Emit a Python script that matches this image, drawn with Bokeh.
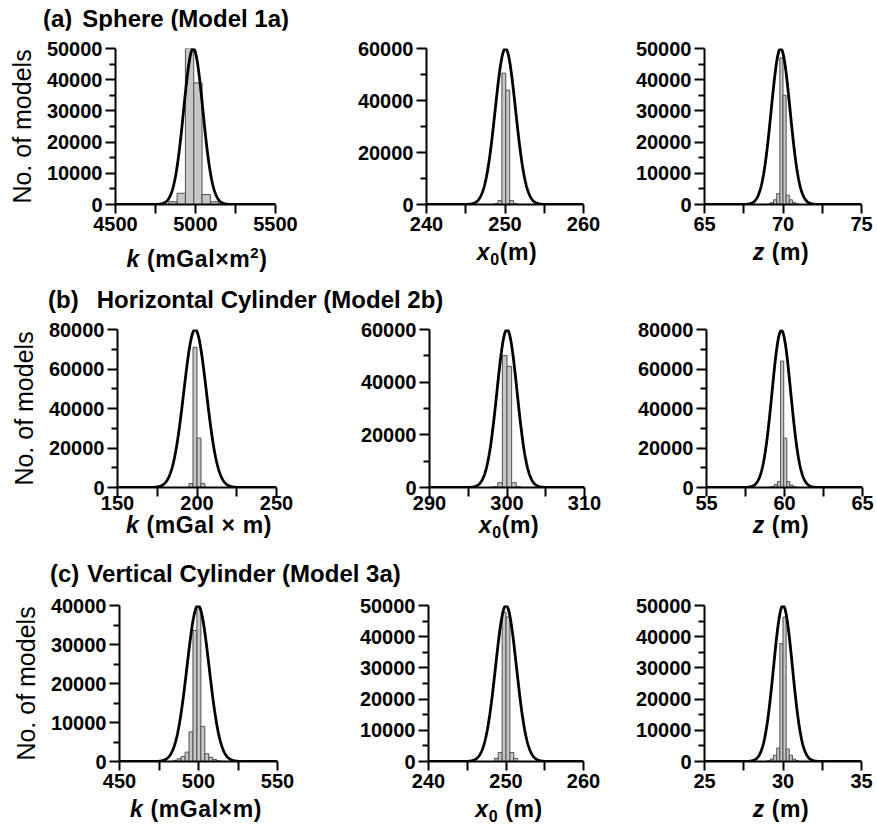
import numpy as np
from bokeh.plotting import figure
from bokeh.models import Range1d, FixedTicker, Div
from bokeh.layouts import column, row
from bokeh.embed import file_html
from bokeh.resources import INLINE

FONT = "Liberation Sans"
CSS_FONT = "'Liberation Sans', Arial, sans-serif"

# ---------------- Row (a): Sphere (Model 1a) ----------------
a_k_bins = [4859, 4911, 4963, 5015, 5067, 5119]
a_k_counts = [900, 3600, 50500, 39000, 3200, 900]
a_k_fit = (4986, 60, 50000)            # mean, sd, peak of fitted normal
a_k_xticks = [4500, 5000, 5500]
a_k_xminor = [4750, 5250]
a_k_yticks = [0, 10000, 20000, 30000, 40000, 50000]
a_k_yminor = [5000, 15000, 25000, 35000, 45000]

a_x_bins = [248.85, 249.35, 249.85, 250.35, 250.85, 251.35]
a_x_counts = [300, 1500, 50500, 44000, 1500, 300]
a_x_fit = (250.05, 1.3, 60000)
a_x_xticks = [240, 250, 260]
a_x_xminor = [245, 255]
a_x_yticks = [0, 20000, 40000, 60000]
a_x_yminor = [10000, 30000, 50000]

a_z_bins = [69.1, 69.3, 69.5, 69.7, 69.9, 70.1, 70.3, 70.5, 70.7, 70.9]
a_z_counts = [200, 600, 1500, 3500, 47000, 35000, 3000, 1500, 700, 200]
a_z_fit = (69.85, 0.6, 50000)
a_z_xticks = [65, 70, 75]
a_z_xminor = [67.5, 72.5]
a_z_yticks = [0, 10000, 20000, 30000, 40000, 50000]
a_z_yminor = [5000, 15000, 25000, 35000, 45000]

# ---------------- Row (b): Horizontal Cylinder (Model 2b) ----------------
b_k_bins = [196.25, 198.75, 201.25, 203.75]
b_k_counts = [2000, 71000, 25000, 2000]
b_k_fit = (198.8, 7.1, 80000)
b_k_xticks = [150, 200, 250]
b_k_xminor = [175, 225]
b_k_yticks = [0, 20000, 40000, 60000, 80000]
b_k_yminor = [10000, 30000, 50000, 70000]

b_x_bins = [298.5, 299.1, 299.7, 300.3, 300.9, 301.5]
b_x_counts = [300, 1800, 50100, 46000, 1800, 300]
b_x_fit = (300.0, 1.3, 60000)
b_x_xticks = [290, 300, 310]
b_x_xminor = [295, 305]
b_x_yticks = [0, 20000, 40000, 60000]
b_x_yminor = [10000, 30000, 50000]

b_z_bins = [59.25, 59.45, 59.65, 59.85, 60.05, 60.25, 60.45, 60.65]
b_z_counts = [500, 1500, 3000, 64000, 25000, 3000, 1200, 400]
b_z_fit = (59.8, 0.6, 79500)
b_z_xticks = [55, 60, 65]
b_z_xminor = [57.5, 62.5]
b_z_yticks = [0, 20000, 40000, 60000, 80000]
b_z_yminor = [10000, 30000, 50000, 70000]

# ---------------- Row (c): Vertical Cylinder (Model 3a) ----------------
c_k_bins = [485.25, 487.75, 490.25, 492.75, 495.25, 497.75, 500.25,
            502.75, 505.25, 507.75, 510.25, 512.75]
c_k_counts = [300, 700, 1300, 2400, 7600, 33600, 39500,
              9000, 2000, 1100, 500, 200]
c_k_fit = (499.7, 7.0, 40000)
c_k_xticks = [450, 500, 550]
c_k_xminor = [475, 525]
c_k_yticks = [0, 10000, 20000, 30000, 40000]
c_k_yminor = [5000, 15000, 25000, 35000]

c_x_bins = [248.75, 249.25, 249.75, 250.25, 250.75, 251.25]
c_x_counts = [1000, 2900, 47800, 46300, 2900, 1000]
c_x_fit = (250.0, 1.35, 50000)
c_x_xticks = [240, 250, 260]
c_x_xminor = [245, 255]
c_x_yticks = [0, 10000, 20000, 30000, 40000, 50000]
c_x_yminor = [5000, 15000, 25000, 35000, 45000]

c_z_bins = [29.1, 29.3, 29.5, 29.7, 29.9, 30.1, 30.3, 30.5, 30.7, 30.9]
c_z_counts = [300, 800, 2000, 4300, 37800, 46300, 4000, 2000, 800, 300]
c_z_fit = (30.0, 0.6, 50000)
c_z_xticks = [25, 30, 35]
c_z_xminor = [27.5, 32.5]
c_z_yticks = [0, 10000, 20000, 30000, 40000, 50000]
c_z_yminor = [5000, 15000, 25000, 35000, 45000]

row_titles = [("(a)", "Sphere (Model 1a)"),
              ("(b)", "Horizontal Cylinder (Model 2b)"),
              ("(c)", "Vertical Cylinder (Model 3a)")]
y_title = "No. of models"
x_titles = [
    ['<i>k</i> (mGal×m<sup style="font-size:15px">2</sup>)',
     '<i>x</i><span style="font-size:16px; position:relative; top:5px">0</span>(m)',
     '<i>z</i> (m)'],
    ['<i>k</i> (mGal × m)',
     '<i>x</i><span style="font-size:16px; position:relative; top:5px">0</span>(m)',
     '<i>z</i> (m)'],
    ['<i>k</i> (mGal×m)',
     '<i>x</i><span style="font-size:16px; position:relative; top:5px">0</span> (m)',
     '<i>z</i> (m)'],
]


def make_panel(bins, counts, bw, fit, xticks, xminor, yticks, yminor,
               geom, ylabel=None):
    lb, fw, rb, tb, fh, bb, tick_standoff = geom
    p = figure(frame_width=fw, frame_height=fh,
               min_border_left=lb, min_border_right=rb,
               min_border_top=tb, min_border_bottom=bb,
               x_range=Range1d(xticks[0], xticks[-1]),
               y_range=Range1d(yticks[0], yticks[-1]),
               title=None, toolbar_location=None, output_backend="svg")
    p.outline_line_color = None
    p.xgrid.visible = False
    p.ygrid.visible = False
    p.background_fill_color = "white"
    p.border_fill_color = "white"

    p.vbar(x=bins, top=counts, width=bw, bottom=0,
           fill_color="#c6c6c6", line_color="#505050", line_width=1)
    mu, sd, peak = fit
    xs = np.linspace(xticks[0], xticks[-1], 600)
    ys = peak * np.exp(-0.5 * ((xs - mu) / sd) ** 2)
    p.line(xs, ys, line_color="black", line_width=2.8)

    xa = p.xaxis[0]
    xa.ticker = FixedTicker(ticks=xticks, minor_ticks=xminor)
    xa.axis_line_width = 2
    xa.axis_line_color = "black"
    xa.major_tick_line_width = 2
    xa.minor_tick_line_width = 2
    xa.major_tick_out = 9
    xa.minor_tick_out = 9
    xa.major_tick_in = 0
    xa.minor_tick_in = 0
    xa.major_label_standoff = tick_standoff
    xa.major_label_text_font = FONT
    xa.major_label_text_font_style = "bold"
    xa.major_label_text_font_size = "20px"
    xa.major_label_text_color = "black"

    ya = p.yaxis[0]
    ya.ticker = FixedTicker(ticks=yticks, minor_ticks=yminor)
    ya.axis_line_width = 2
    ya.axis_line_color = "black"
    ya.major_tick_line_width = 2
    ya.minor_tick_line_width = 2
    ya.major_tick_out = 10
    ya.minor_tick_out = 6
    ya.major_tick_in = 0
    ya.minor_tick_in = 0
    ya.major_label_standoff = 3
    ya.major_label_text_font = FONT
    ya.major_label_text_font_style = "bold"
    ya.major_label_text_font_size = "20px"
    ya.major_label_text_color = "black"
    if ylabel:
        ya.axis_label = ylabel
        ya.axis_label_text_font = FONT
        ya.axis_label_text_font_style = "normal"
        ya.axis_label_text_font_size = "25px"
        ya.axis_label_text_color = "black"
        ya.axis_label_standoff = 8
    return p


# geometry: (left border, frame width, right border, top border, frame height, bottom border, x tick label standoff)
ga = [(115, 160, 30, 18, 156, 36, 3), (121, 157, 30, 18, 156, 36, 3), (91, 157, 16, 18, 156, 36, 3)]
gb = [(117, 159, 30, 12, 158, 28, -1), (123, 155, 30, 12, 158, 28, -1), (92, 156, 15, 12, 158, 28, -1)]
gc = [(119, 158, 30, 15, 156, 38, 3), (121, 155, 30, 15, 156, 38, 3), (91, 157, 16, 15, 156, 38, 3)]

row_a = [
    make_panel(a_k_bins, a_k_counts, 52, a_k_fit, a_k_xticks, a_k_xminor, a_k_yticks, a_k_yminor, ga[0], y_title),
    make_panel(a_x_bins, a_x_counts, 0.5, a_x_fit, a_x_xticks, a_x_xminor, a_x_yticks, a_x_yminor, ga[1]),
    make_panel(a_z_bins, a_z_counts, 0.2, a_z_fit, a_z_xticks, a_z_xminor, a_z_yticks, a_z_yminor, ga[2]),
]
row_b = [
    make_panel(b_k_bins, b_k_counts, 2.5, b_k_fit, b_k_xticks, b_k_xminor, b_k_yticks, b_k_yminor, gb[0], y_title),
    make_panel(b_x_bins, b_x_counts, 0.6, b_x_fit, b_x_xticks, b_x_xminor, b_x_yticks, b_x_yminor, gb[1]),
    make_panel(b_z_bins, b_z_counts, 0.2, b_z_fit, b_z_xticks, b_z_xminor, b_z_yticks, b_z_yminor, gb[2]),
]
row_c = [
    make_panel(c_k_bins, c_k_counts, 2.5, c_k_fit, c_k_xticks, c_k_xminor, c_k_yticks, c_k_yminor, gc[0], y_title),
    make_panel(c_x_bins, c_x_counts, 0.5, c_x_fit, c_x_xticks, c_x_xminor, c_x_yticks, c_x_yminor, gc[1]),
    make_panel(c_z_bins, c_z_counts, 0.2, c_z_fit, c_z_xticks, c_z_xminor, c_z_yticks, c_z_yminor, gc[2]),
]


def title_div(tag, text, left, gap, top, height):
    html = (f'<div style="padding-left:{left}px; padding-top:{top}px; '
            f'font-family:{CSS_FONT}; font-weight:bold; '
            f'font-size:24px; line-height:24px; white-space:nowrap; color:black;">'
            f'<span>{tag}</span><span style="margin-left:{gap}px">{text}</span></div>')
    return Div(text=html, width=877, height=height, margin=0)


def xlabel_div(labels, centers, top, height):
    spans = "".join(
        f'<div style="position:absolute; left:{c}px; top:{top}px; transform:translateX(-50%); '
        f'white-space:nowrap; letter-spacing:0.6px;">{t}</div>'
        for t, c in zip(labels, centers))
    html = (f'<div style="position:relative; width:877px; height:{height}px; '
            f'font-family:{CSS_FONT}; font-weight:bold; font-size:23px; line-height:23px; color:black;">'
            f'{spans}</div>')
    return Div(text=html, width=877, height=height, margin=0)


div_a = title_div(row_titles[0][0], row_titles[0][1], 43, 10, 7, 30)
xl_a = xlabel_div(x_titles[0], [197, 507, 781], 1, 42)
div_b = title_div(row_titles[1][0], row_titles[1][1], 48, 18, 6, 35)
xl_b = xlabel_div(x_titles[1], [199, 509, 781], -1, 45)
div_c = title_div(row_titles[2][0], row_titles[2][1], 50, 8, 2, 30)
xl_c = xlabel_div(x_titles[2], [196, 509, 781], -1, 27)

layout = column(div_a, row(*row_a, spacing=0), xl_a,
                div_b, row(*row_b, spacing=0), xl_b,
                div_c, row(*row_c, spacing=0), xl_c, spacing=0)

open("out.html", "w").write(file_html(layout, INLINE))
